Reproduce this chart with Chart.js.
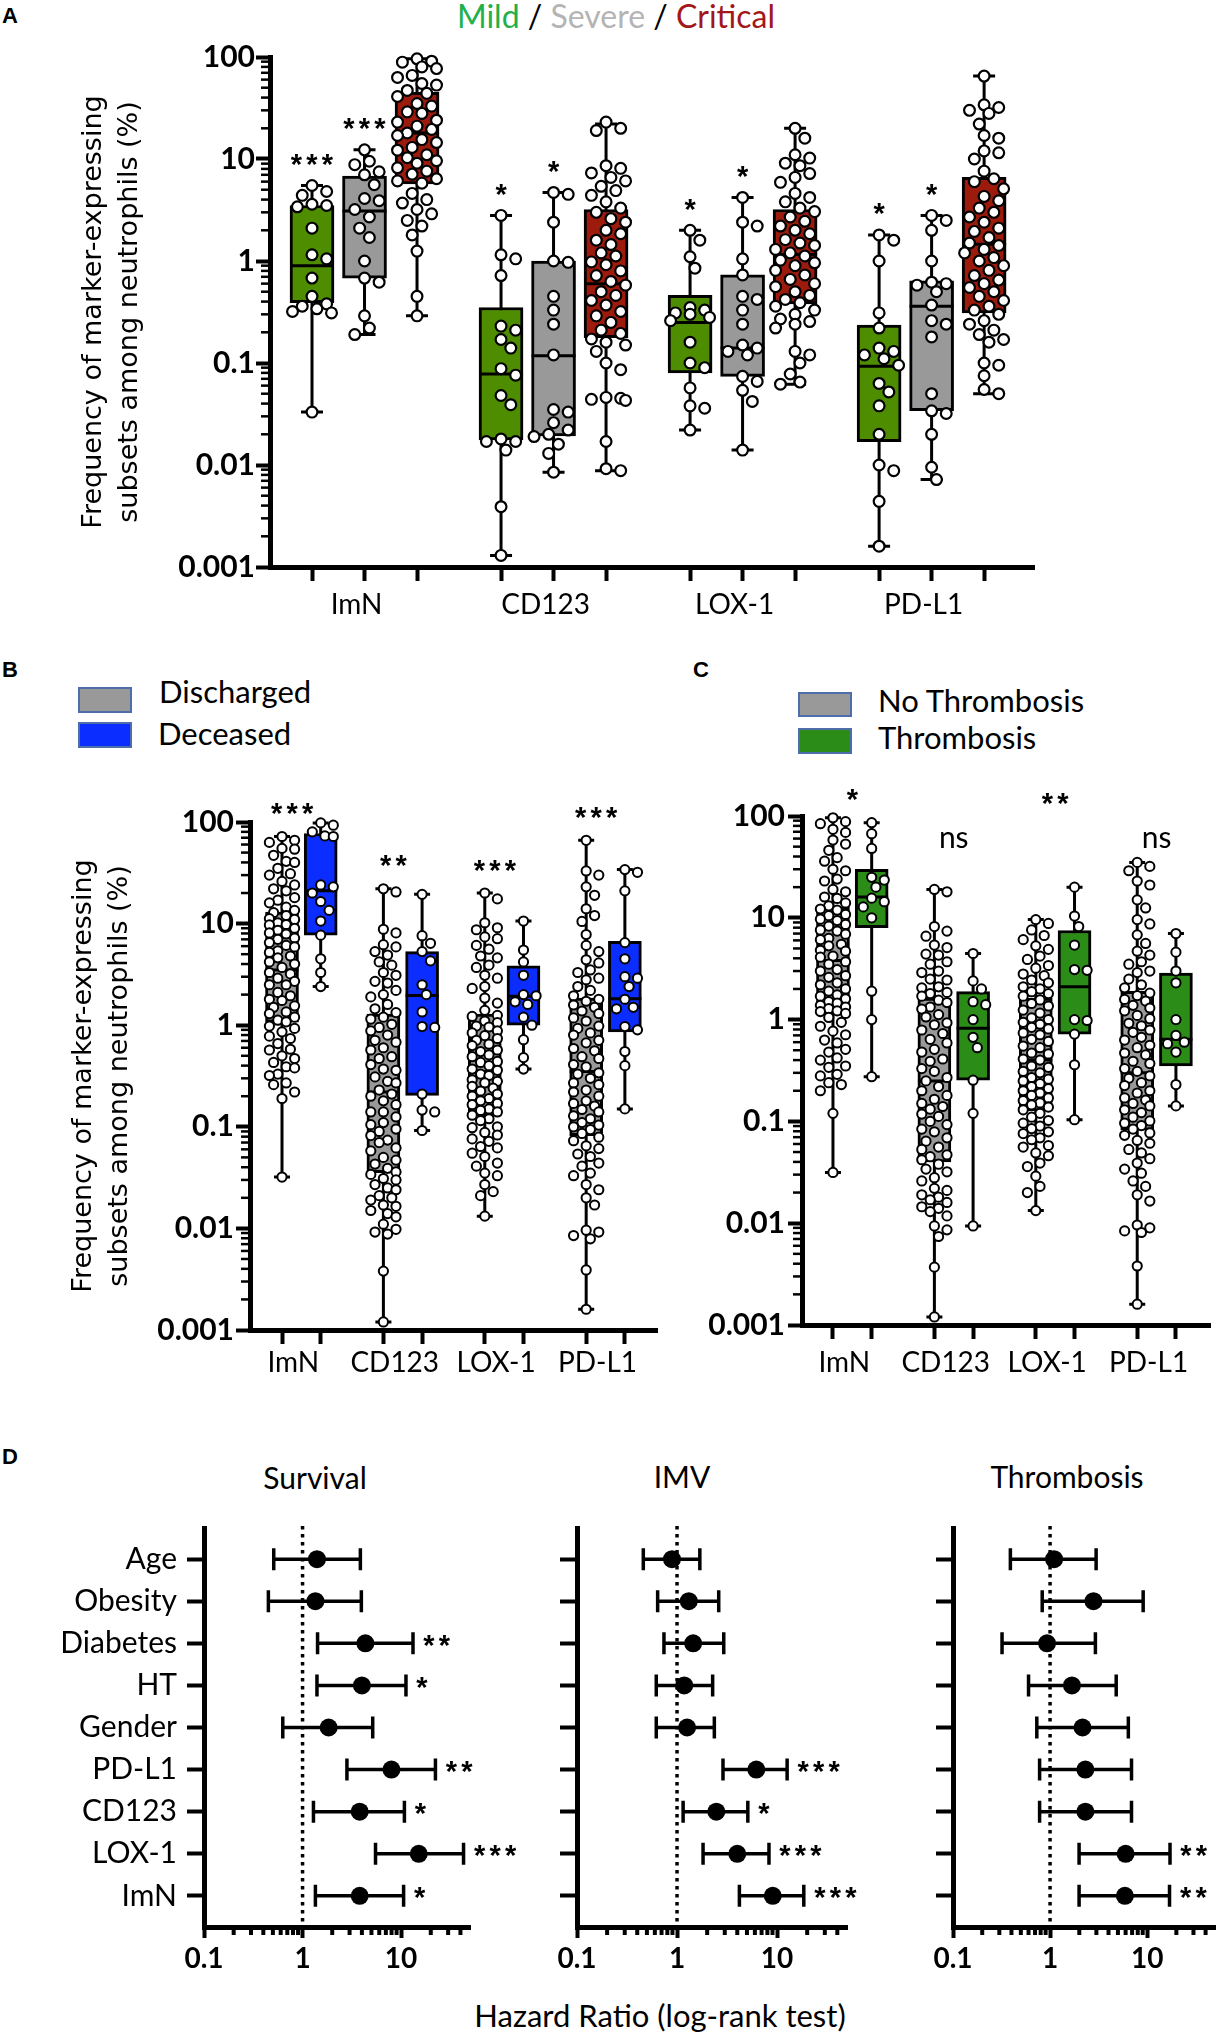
<!DOCTYPE html>
<html>
<head>
<meta charset="utf-8">
<script src="https://cdn.jsdelivr.net/npm/chart.js@4.4.1/dist/chart.umd.min.js"></script>
<style>
  body { margin: 0; background: #fff; width: 1224px; height: 2032px; position: relative; overflow: hidden; font-family: Lato, "Liberation Sans", sans-serif; color: #000; }
  canvas { position: absolute; }
  .t { position: absolute; white-space: nowrap; }
  .lg { position: absolute; box-sizing: border-box; border: 2px solid #4d6dab; width: 54px; }
</style>
</head>
<body>
<div class="t" style="left:2px;top:3px;font:bold 22px/26px 'Liberation Sans',sans-serif">A</div>
<div class="t" style="left:616px;top:-3px;transform:translateX(-50%);font-size:32px;line-height:38px"><span style="color:#21b04b">Mild</span> / <span style="color:#b4b4b4">Severe</span> / <span style="color:#a3161a">Critical</span></div>

<div class="t" style="left:2px;top:657px;font:bold 22px/26px 'Liberation Sans',sans-serif">B</div>
<div class="lg" style="left:78px;top:687px;height:26px;background:#999"></div>
<div class="lg" style="left:78px;top:722px;height:26px;background:#0b2dff"></div>
<div class="t" style="left:159px;top:673px;font-size:31px;line-height:37px">Discharged</div>
<div class="t" style="left:158px;top:715px;font-size:31px;line-height:37px">Deceased</div>

<div class="t" style="left:693px;top:657px;font:bold 22px/26px 'Liberation Sans',sans-serif">C</div>
<div class="lg" style="left:798px;top:692px;height:25px;background:#999"></div>
<div class="lg" style="left:798px;top:728px;height:26px;background:#2b8c17"></div>
<div class="t" style="left:878px;top:682px;font-size:31px;line-height:37px">No Thrombosis</div>
<div class="t" style="left:878px;top:719px;font-size:31px;line-height:37px">Thrombosis</div>

<div class="t" style="left:2px;top:1444px;font:bold 22px/26px 'Liberation Sans',sans-serif">D</div>
<div class="t" style="left:315px;top:1459px;transform:translateX(-50%);font-size:30px;line-height:36px">Survival</div>
<div class="t" style="left:682px;top:1458px;transform:translateX(-50%);font-size:30px;line-height:36px">IMV</div>
<div class="t" style="left:1067px;top:1458px;transform:translateX(-50%);font-size:30px;line-height:36px">Thrombosis</div>
<div class="t" style="left:660px;top:1997px;transform:translateX(-50%);font-size:31px;line-height:37px">Hazard Ratio (log-rank test)</div>

<canvas id="chartA"></canvas>
<canvas id="chartB"></canvas>
<canvas id="chartC"></canvas>
<canvas id="chartSurv"></canvas>
<canvas id="chartImv"></canvas>
<canvas id="chartThr"></canvas>

<script>
// ---- data ----
const markers = ['ImN', 'CD123', 'LOX-1', 'PD-L1'];
const decadeTicks = [0.001, 0.01, 0.1, 1, 10, 100];

// panel A, one inner list per marker; box stats are [min, q1, median, q3, max]
const mildVals = [
  [5.5, 4.8, 4.4, 3.6, 3.5, 3.4, 2.1, 1.15, 1.05, 0.68, 0.45, 0.38, 0.36, 0.34, 0.32, 0.31, 0.033],
  [2.8, 1.15, 1.05, 0.72, 0.23, 0.21, 0.17, 0.14, 0.088, 0.076, 0.048, 0.039, 0.018, 0.017, 0.017, 0.014, 0.0039, 0.0013],
  [2.0, 1.6, 1.1, 0.85, 0.35, 0.33, 0.31, 0.3, 0.28, 0.26, 0.16, 0.1, 0.09, 0.057, 0.038, 0.036, 0.022],
  [1.8, 1.6, 1.0, 0.31, 0.22, 0.14, 0.13, 0.12, 0.11, 0.095, 0.063, 0.052, 0.038, 0.02, 0.01, 0.0088, 0.0044, 0.0016]
];
const mildBox = [[0.033, 0.39, 0.9, 3.5, 5.5], [0.0013, 0.0176, 0.078, 0.35, 2.8], [0.022, 0.08, 0.25, 0.46, 2.0], [0.0016, 0.0169, 0.093, 0.235, 1.8]];
const severeVals = [
  [12.3, 9.5, 8.8, 7.5, 7.0, 5.6, 4.1, 3.9, 3.2, 2.7, 2.1, 1.7, 1.0, 0.68, 0.62, 0.29, 0.22, 0.19],
  [4.7, 4.5, 2.4, 1.0, 0.97, 0.45, 0.33, 0.24, 0.12, 0.035, 0.033, 0.026, 0.022, 0.02, 0.019, 0.016, 0.013, 0.0085],
  [4.2, 2.4, 2.2, 1.05, 0.73, 0.45, 0.42, 0.33, 0.24, 0.15, 0.14, 0.13, 0.12, 0.074, 0.066, 0.054, 0.042, 0.014],
  [2.8, 2.5, 2.0, 1.0, 0.62, 0.6, 0.58, 0.5, 0.37, 0.26, 0.24, 0.18, 0.05, 0.034, 0.032, 0.02, 0.0095, 0.0072]
];
const severeBox = [[0.19, 0.68, 3.1, 6.8, 12.3], [0.0085, 0.0193, 0.118, 1.0, 4.7], [0.014, 0.074, 0.14, 0.73, 4.2], [0.0072, 0.034, 0.36, 0.64, 2.8]];
const criticalVals = [
  [96, 91, 89, 80, 77, 66, 63, 55, 53, 47, 44, 41, 35, 33, 29, 28, 24, 23, 21, 19.5, 18, 17, 15.5, 14.5, 13, 12.2, 11, 10.3, 9.6, 9.1, 8.2, 7.6, 7.1, 6.4, 6.1, 5.8, 4.6, 4.0, 3.7, 3.2, 2.9, 2.5, 2.2, 1.8, 1.25, 0.45, 0.29],
  [23, 20, 19, 8.6, 8.1, 7.3, 6.6, 6.1, 5.4, 4.9, 4.4, 3.8, 3.3, 3.0, 2.6, 2.4, 2.0, 1.85, 1.6, 1.45, 1.2, 1.12, 0.98, 0.92, 0.8, 0.72, 0.63, 0.58, 0.5, 0.46, 0.41, 0.37, 0.32, 0.29, 0.25, 0.21, 0.195, 0.172, 0.16, 0.15, 0.13, 0.1, 0.086, 0.046, 0.045, 0.044, 0.043, 0.017, 0.0092, 0.0088],
  [20, 16, 11, 10.2, 9.1, 8.6, 7.2, 6.6, 5.9, 4.6, 4.2, 3.8, 3.3, 3.05, 2.7, 2.45, 2.2, 2.0, 1.85, 1.62, 1.5, 1.42, 1.3, 1.2, 1.12, 1.02, 0.96, 0.9, 0.81, 0.73, 0.66, 0.6, 0.56, 0.5, 0.46, 0.42, 0.39, 0.36, 0.33, 0.3, 0.27, 0.255, 0.24, 0.22, 0.13, 0.12, 0.1, 0.078, 0.065, 0.062],
  [65, 34, 32, 30, 28, 22, 17, 16, 12, 11.5, 10, 7.6, 6.4, 6.0, 5.1, 4.3, 3.9, 3.3, 3.0, 2.7, 2.4, 2.1, 1.95, 1.7, 1.5, 1.42, 1.3, 1.2, 1.08, 1.0, 0.9, 0.81, 0.72, 0.65, 0.6, 0.55, 0.5, 0.45, 0.41, 0.36, 0.33, 0.3, 0.26, 0.24, 0.21, 0.19, 0.17, 0.16, 0.1, 0.095, 0.075, 0.055, 0.05]
];
const criticalBox = [[0.29, 5.7, 18, 45, 96], [0.0088, 0.177, 0.6, 3.2, 22], [0.062, 0.38, 1.16, 3.2, 20], [0.05, 0.31, 1.46, 6.6, 65]];
const mildSig = ['***', '*', '*', '*'];
const severeSig = ['***', '*', '*', '*'];

// panel B
const dischVals = [
  [72, 66, 63, 55, 54, 47, 41, 40, 35, 31, 30, 26, 24, 22, 21, 18, 17, 16, 14.5, 13.5, 12.8, 12, 11.2, 11, 10.2, 9.8, 9.7, 9, 8.6, 8.1, 7.9, 7.2, 7, 6.5, 6.1, 5.9, 5.4, 5.2, 4.8, 4.6, 4.2, 4.0, 3.7, 3.3, 3.2, 2.9, 2.7, 2.5, 2.5, 2.1, 1.95, 1.8, 1.75, 1.55, 1.5, 1.35, 1.3, 1.2, 1.12, 1.08, 0.98, 0.93, 0.86, 0.78, 0.74, 0.66, 0.58, 0.57, 0.5, 0.47, 0.43, 0.39, 0.38, 0.33, 0.32, 0.27, 0.26, 0.22, 0.19, 0.032],
  [22, 20.5, 8.8, 8.1, 6.2, 5.9, 5.3, 4.9, 4.2, 3.9, 3.3, 3.1, 2.7, 2.6, 2.2, 2.0, 1.9, 1.6, 1.45, 1.33, 1.2, 1.15, 1.02, 0.95, 0.88, 0.8, 0.71, 0.68, 0.6, 0.57, 0.49, 0.47, 0.41, 0.37, 0.36, 0.31, 0.28, 0.27, 0.23, 0.21, 0.2, 0.18, 0.165, 0.14, 0.14, 0.125, 0.11, 0.105, 0.095, 0.09, 0.082, 0.074, 0.07, 0.062, 0.058, 0.05, 0.047, 0.043, 0.039, 0.036, 0.034, 0.031, 0.03, 0.027, 0.025, 0.024, 0.021, 0.02, 0.019, 0.017, 0.0165, 0.015, 0.014, 0.013, 0.011, 0.0098, 0.0092, 0.0088, 0.0038, 0.0012],
  [20, 17.5, 10.2, 9.1, 8.7, 7.4, 7.1, 6.1, 5.6, 4.8, 4.6, 3.9, 3.7, 3.1, 2.9, 2.4, 2.3, 1.85, 1.65, 1.4, 1.25, 1.22, 1.1, 1.06, 0.98, 0.96, 0.88, 0.84, 0.79, 0.74, 0.71, 0.65, 0.63, 0.57, 0.55, 0.51, 0.49, 0.44, 0.43, 0.4, 0.37, 0.36, 0.33, 0.32, 0.29, 0.28, 0.27, 0.25, 0.24, 0.225, 0.21, 0.2, 0.19, 0.18, 0.17, 0.165, 0.15, 0.145, 0.14, 0.13, 0.12, 0.115, 0.1, 0.098, 0.088, 0.083, 0.076, 0.072, 0.064, 0.062, 0.055, 0.051, 0.044, 0.041, 0.035, 0.033, 0.027, 0.023, 0.021, 0.0132],
  [66, 33, 30, 23, 19, 14, 12, 10.5, 7.8, 6.1, 5.3, 4.4, 4.1, 3.5, 3.3, 2.9, 2.8, 2.4, 2.2, 1.95, 1.8, 1.72, 1.58, 1.5, 1.38, 1.3, 1.18, 1.1, 0.98, 0.93, 0.84, 0.8, 0.71, 0.67, 0.59, 0.56, 0.49, 0.47, 0.41, 0.39, 0.34, 0.33, 0.3, 0.27, 0.26, 0.23, 0.22, 0.2, 0.18, 0.17, 0.16, 0.148, 0.14, 0.128, 0.12, 0.11, 0.104, 0.1, 0.094, 0.086, 0.079, 0.073, 0.065, 0.061, 0.054, 0.051, 0.044, 0.041, 0.035, 0.033, 0.027, 0.024, 0.02, 0.017, 0.0096, 0.0092, 0.0085, 0.0079, 0.0039, 0.0016]
];
const dischBox = [[0.032, 1.07, 3.5, 13, 72], [0.0012, 0.0354, 0.22, 1.29, 22], [0.0132, 0.128, 0.35, 1.29, 20], [0.0016, 0.082, 0.35, 1.85, 66]];
const deceasedVals = [
  [98, 93, 80, 73, 72, 24, 23, 20, 16.5, 13.5, 10.6, 7.7, 4.5, 3.3, 2.4],
  [19.4, 7.6, 6.4, 5.3, 4.3, 2.5, 2.0, 1.35, 0.97, 0.95, 0.21, 0.146, 0.14, 0.092],
  [10.6, 5.5, 4.2, 3.1, 2.0, 1.95, 1.7, 1.6, 1.2, 1.0, 0.72, 0.48, 0.37],
  [34, 32, 21, 6.5, 4.5, 3.0, 2.9, 2.4, 1.8, 1.5, 1.45, 0.97, 0.9, 0.55, 0.4, 0.15]
];
const deceasedBox = [[2.4, 7.7, 21, 77, 98], [0.092, 0.204, 1.96, 5.3, 19.4], [0.37, 1.0, 1.93, 3.85, 10.6], [0.15, 0.86, 1.82, 6.7, 34]];
const outcomeSig = ['***', '**', '***', '***'];

// panel C
const noThrVals = [
  [96, 88, 84, 74, 69, 58, 53, 46, 39, 36, 30, 29, 24, 23, 19, 18, 16, 15.5, 14, 13.1, 12.2, 11.9, 10.8, 10.5, 9.7, 9.4, 8.6, 8.3, 7.6, 7.4, 6.9, 6.3, 6.1, 5.5, 5.3, 4.8, 4.7, 4.2, 4.1, 3.7, 3.5, 3.1, 3.0, 2.7, 2.6, 2.3, 2.2, 2.0, 1.9, 1.75, 1.7, 1.6, 1.5, 1.45, 1.38, 1.33, 1.28, 1.22, 1.2, 1.15, 1.05, 0.94, 0.86, 0.77, 0.71, 0.63, 0.59, 0.51, 0.48, 0.42, 0.4, 0.35, 0.34, 0.29, 0.28, 0.24, 0.23, 0.2, 0.12, 0.0315],
  [19, 18, 8.2, 7.4, 6.6, 5.4, 5.1, 4.4, 4.3, 3.7, 3.5, 3.0, 2.9, 2.5, 2.45, 2.1, 2.05, 1.85, 1.8, 1.7, 1.55, 1.47, 1.33, 1.27, 1.12, 1.06, 0.93, 0.89, 0.79, 0.73, 0.64, 0.59, 0.51, 0.48, 0.41, 0.39, 0.33, 0.31, 0.27, 0.25, 0.22, 0.2, 0.18, 0.165, 0.15, 0.14, 0.132, 0.118, 0.112, 0.1, 0.093, 0.084, 0.079, 0.069, 0.064, 0.056, 0.053, 0.047, 0.045, 0.042, 0.038, 0.034, 0.032, 0.028, 0.026, 0.022, 0.021, 0.019, 0.018, 0.017, 0.016, 0.0145, 0.014, 0.013, 0.0118, 0.0094, 0.0086, 0.0074, 0.0037, 0.0012],
  [9.6, 8.8, 7.6, 6.7, 6.1, 5.3, 4.9, 4.2, 3.9, 3.4, 3.2, 2.8, 2.7, 2.45, 2.3, 2.1, 2.0, 1.88, 1.8, 1.7, 1.56, 1.44, 1.36, 1.24, 1.16, 1.04, 1.0, 0.94, 0.9, 0.84, 0.81, 0.74, 0.71, 0.64, 0.61, 0.55, 0.53, 0.47, 0.46, 0.41, 0.4, 0.35, 0.34, 0.31, 0.3, 0.27, 0.26, 0.25, 0.235, 0.22, 0.21, 0.2, 0.19, 0.18, 0.17, 0.16, 0.152, 0.145, 0.138, 0.13, 0.12, 0.11, 0.102, 0.096, 0.09, 0.085, 0.079, 0.076, 0.069, 0.066, 0.058, 0.056, 0.049, 0.046, 0.039, 0.036, 0.029, 0.023, 0.02, 0.0133],
  [35, 32, 29, 23, 21, 15, 12.5, 9.6, 8.7, 6.8, 5.6, 4.7, 4.3, 3.7, 3.5, 3.0, 2.9, 2.5, 2.2, 2.05, 1.82, 1.72, 1.58, 1.52, 1.38, 1.3, 1.22, 1.1, 1.02, 0.92, 0.87, 0.79, 0.75, 0.67, 0.63, 0.56, 0.53, 0.47, 0.45, 0.39, 0.37, 0.33, 0.31, 0.28, 0.265, 0.24, 0.225, 0.2, 0.19, 0.17, 0.162, 0.15, 0.142, 0.13, 0.122, 0.11, 0.101, 0.096, 0.091, 0.084, 0.077, 0.073, 0.065, 0.061, 0.053, 0.049, 0.043, 0.039, 0.034, 0.031, 0.026, 0.023, 0.019, 0.0165, 0.0096, 0.009, 0.0084, 0.0081, 0.0038, 0.0016]
];
const noThrBox = [[0.0315, 1.13, 3.8, 12.7, 96], [0.0012, 0.04, 0.25, 1.63, 19], [0.0133, 0.127, 0.4, 1.63, 9.6], [0.0016, 0.082, 0.3, 1.9, 35]];
const thrVals = [
  [86, 67, 48, 25, 23.5, 20, 15.6, 14.4, 12.8, 10, 1.9, 1.0, 0.275],
  [4.46, 2.4, 2.0, 1.5, 1.4, 1.0, 0.67, 0.53, 0.254, 0.12, 0.0094],
  [20, 10.4, 8.2, 5.4, 3.1, 3.05, 1.0, 0.98, 0.72, 0.36, 0.104],
  [7.0, 4.6, 3.0, 2.3, 1.0, 0.7, 0.6, 0.58, 0.48, 0.23, 0.142]
];
const thrBox = [[0.275, 8.0, 16, 30, 86], [0.0094, 0.254, 0.82, 1.88, 4.46], [0.104, 0.72, 2.1, 7.5, 20], [0.142, 0.35, 0.64, 2.86, 7.0]];
const thrSig = ['*', 'ns', '**', 'ns'];

// panel D, hazard ratios with 95% CI
const hrFactors = ['Age', 'Obesity', 'Diabetes', 'HT', 'Gender', 'PD-L1', 'CD123', 'LOX-1', 'ImN'];
const hrTicks = [0.1, 1, 10];
const survHR = [1.4, 1.35, 4.34, 4.0, 1.84, 7.98, 3.8, 15.1, 3.8];
const survLo = [0.51, 0.45, 1.42, 1.4, 0.63, 2.82, 1.29, 5.5, 1.35];
const survHi = [3.86, 3.95, 13.2, 11.2, 5.15, 22.3, 10.8, 43, 10.6];
const survSig = ['', '', '**', '*', '', '**', '*', '***', '*'];
const imvHR = [0.89, 1.31, 1.45, 1.18, 1.26, 6.2, 2.47, 4.0, 9.05];
const imvLo = [0.46, 0.64, 0.74, 0.62, 0.62, 2.88, 1.15, 1.82, 4.2];
const imvHi = [1.69, 2.61, 2.93, 2.27, 2.36, 12.6, 5.1, 8.3, 18.5];
const imvSig = ['', '', '', '', '', '***', '*', '***', '***'];
const thrHR = [1.1, 2.8, 0.93, 1.68, 2.16, 2.31, 2.31, 6.0, 5.9];
const thrLo = [0.39, 0.83, 0.32, 0.6, 0.73, 0.78, 0.78, 1.99, 1.99];
const thrHi = [2.98, 9.1, 2.93, 4.8, 6.4, 6.9, 6.9, 17.2, 17];
const thrHrSig = ['', '', '', '', '', '', '', '**', '**'];

// ---- helpers ----
const TXT = 'Lato, "Liberation Sans", sans-serif';
const yTitle = ['Frequency of marker-expressing', 'subsets among neutrophils (%)'];

// simple beeswarm: offsets in px, points stay inside the box where possible
function swarm(vals, pxDec, r, half) {
  const idx = vals.map((v, i) => i).sort((a, b) => vals[b] - vals[a]);
  const step = r * 0.75, dMin = 2 * r * 0.95;
  const cands = [0];
  for (let k = 1; k * step <= half + 0.01; k++) cands.push(k * step, -k * step);
  const placed = [], offs = [];
  idx.forEach(i => {
    const y = -Math.log10(vals[i]) * pxDec;
    let best = 0, bestCost = Infinity;
    for (const c of cands) {
      let cost = 0;
      placed.forEach(q => { const d = Math.hypot(c - q.x, y - q.y); if (d < dMin) cost += dMin - d; });
      if (cost < bestCost - 1e-9) { bestCost = cost; best = c; }
      if (cost === 0) break;
    }
    offs[i] = best;
    placed.push({x: best, y: y});
  });
  return offs;
}

function drawSig(ctx, text, x, cy, align) {
  ctx.save();
  ctx.fillStyle = '#000';
  if (/^\*+$/.test(text)) {
    ctx.font = 'bold 29px "Liberation Sans", Arial, sans-serif';
    ctx.textAlign = 'center';
    ctx.textBaseline = 'alphabetic';
    const pitch = 15.5, n = text.length;
    const x0 = align === 'left' ? x + 6 : x - (n - 1) * pitch / 2;
    for (let i = 0; i < n; i++) ctx.fillText('*', x0 + i * pitch, cy + 16.5);
  } else {
    ctx.font = '30px ' + TXT;
    ctx.textAlign = align || 'center';
    ctx.textBaseline = 'middle';
    ctx.fillText(text, x, cy);
  }
  ctx.restore();
}

function placeCanvas(id, p) {
  const cv = document.getElementById(id);
  cv.width = p.w; cv.height = p.h;
  cv.style.left = p.left + 'px'; cv.style.top = p.top + 'px';
  cv.style.width = p.w + 'px'; cv.style.height = p.h + 'px';
  return cv;
}

function boxChart(p) {
  const cv = placeCanvas(p.id, p);
  const A = p.area;
  const pxUnit = (A.right - A.left) / (p.xMax - p.xMin);
  const pxDec = (A.bottom - A.top) / 5;
  const yW = A.left - p.left;
  const pad = {left: 0, top: A.top - p.top, right: p.left + p.w - A.right, bottom: p.top + p.h - A.bottom - p.xH};
  const boxes = [], colors = [], points = [], stats = [], ticks = [];
  markers.forEach((m, mi) => {
    p.series.forEach((s, si) => {
      const x = mi * p.pitch + si;
      const b = s.box[mi];
      boxes.push({x: x, y: [b[1], b[3]]});
      colors.push(s.color);
      stats.push({x: x, b: b});
      ticks.push({value: x, label: si === p.labelAt ? m : '', mark: true});
      const offs = swarm(s.vals[mi], pxDec, p.r + p.pbw / 2, p.boxW / 2 - p.r * 0.4);
      s.vals[mi].forEach((v, k) => points.push({x: x + offs[k] / pxUnit, y: v}));
    });
    if (!Number.isInteger(p.labelAt)) ticks.push({value: mi * p.pitch + p.labelAt, label: m, mark: false});
  });
  ticks.sort((a, b) => a.value - b.value);

  const parts = {
    id: 'boxParts',
    beforeDatasetsDraw(chart) {
      const {ctx} = chart, xs = chart.scales.x, ys = chart.scales.y;
      ctx.save();
      ctx.strokeStyle = '#000'; ctx.lineWidth = p.lw;
      stats.forEach(s => {
        const x = xs.getPixelForValue(s.x);
        const y0 = ys.getPixelForValue(s.b[0]), y1 = ys.getPixelForValue(s.b[4]);
        ctx.beginPath();
        ctx.moveTo(x, y0); ctx.lineTo(x, y1);
        ctx.moveTo(x - p.capW / 2, y0); ctx.lineTo(x + p.capW / 2, y0);
        ctx.moveTo(x - p.capW / 2, y1); ctx.lineTo(x + p.capW / 2, y1);
        ctx.stroke();
      });
      ctx.restore();
    },
    afterDatasetDraw(chart, args) {
      if (args.index !== 0) return;
      const {ctx} = chart, xs = chart.scales.x, ys = chart.scales.y;
      ctx.save();
      ctx.strokeStyle = '#000'; ctx.lineWidth = p.lw;
      stats.forEach(s => {
        const x = xs.getPixelForValue(s.x), y = ys.getPixelForValue(s.b[2]);
        ctx.beginPath(); ctx.moveTo(x - p.boxW / 2, y); ctx.lineTo(x + p.boxW / 2, y); ctx.stroke();
      });
      ctx.restore();
    },
    afterDraw(chart) {
      const {ctx, chartArea} = chart, xs = chart.scales.x, ys = chart.scales.y;
      ctx.save();
      ctx.strokeStyle = '#000'; ctx.lineWidth = 2.5;
      for (let e = -3; e < 2; e++) {
        for (let m = 2; m < 10; m++) {
          const y = ys.getPixelForValue(m * Math.pow(10, e));
          ctx.beginPath(); ctx.moveTo(chartArea.left - 9, y); ctx.lineTo(chartArea.left, y); ctx.stroke();
        }
      }
      ctx.restore();
      p.sig.forEach(a => drawSig(ctx, a.text, xs.getPixelForValue(a.xu), ys.getPixelForValue(a.yv) - a.dy, 'center'));
    }
  };

  return new Chart(cv, {
    type: 'scatter',
    data: {
      datasets: [
        {type: 'bar', data: boxes, backgroundColor: colors, borderColor: '#000', borderWidth: p.lw, borderSkipped: false, barThickness: p.boxW, grouped: false, order: 2},
        {type: 'scatter', data: points, pointRadius: p.r, pointBackgroundColor: '#fff', pointBorderColor: '#000', pointBorderWidth: p.pbw, clip: false, order: 1}
      ]
    },
    options: {
      responsive: false, animation: false, events: [],
      layout: {padding: pad},
      plugins: {legend: {display: false}, tooltip: {enabled: false}},
      scales: {
        x: {
          type: 'linear', min: p.xMin, max: p.xMax, offset: false,
          afterBuildTicks: s => { s.ticks = ticks.map(t => ({value: t.value})); },
          afterFit: s => { s.height = p.xH; },
          ticks: {callback: (v, i) => ticks[i].label, autoSkip: false, maxRotation: 0, minRotation: 0, color: '#000', font: {family: TXT, size: 28}, padding: p.xPad, labelOffset: -8},
          grid: {drawOnChartArea: false, offset: false, tickLength: 14, tickWidth: 4, tickColor: c => (ticks[c.index] && ticks[c.index].mark) ? '#000' : 'rgba(0,0,0,0)'},
          border: {display: true, color: '#000', width: 5}
        },
        y: {
          type: 'logarithmic', min: 0.001, max: 100,
          afterBuildTicks: s => { s.ticks = decadeTicks.map(v => ({value: v, major: true})); },
          afterFit: s => { s.width = yW; },
          ticks: {callback: v => String(v), autoSkip: false, color: '#000', font: {family: TXT, size: 30, weight: 'bold'}, padding: p.yPad},
          grid: {drawOnChartArea: false, tickLength: 14, tickWidth: 4, tickColor: '#000'},
          border: {display: true, color: '#000', width: 5},
          title: p.title ? {display: true, text: yTitle, color: '#000', font: {family: '"DejaVu Sans", sans-serif', size: 27, lineHeight: 1.333}, padding: {top: p.titlePad, bottom: 0}} : {display: false}
        }
      }
    },
    plugins: [parts]
  });
}

function forestChart(p) {
  const cv = placeCanvas(p.id, p);
  const A = p.area;
  const yW = A.left - p.left;
  const pad = {left: 0, top: A.top - p.top, right: p.left + p.w - A.right, bottom: p.top + p.h - A.bottom - 50};
  const minors = [0.2, 0.3, 0.4, 0.5, 0.6, 0.7, 0.8, 0.9, 2, 3, 4, 5, 6, 7, 8, 9, 20, 30, 40];
  const parts = {
    id: 'forestParts',
    beforeDatasetsDraw(chart) {
      const {ctx, chartArea} = chart, xs = chart.scales.x, ys = chart.scales.y;
      ctx.save();
      ctx.strokeStyle = '#000';
      const x1 = xs.getPixelForValue(1);
      ctx.lineWidth = 3.5; ctx.setLineDash([3.5, 4.5]);
      ctx.beginPath(); ctx.moveTo(x1, chartArea.top - 2); ctx.lineTo(x1, chartArea.bottom); ctx.stroke();
      ctx.setLineDash([]);
      p.hr.forEach((v, i) => {
        const y = ys.getPixelForValue(i);
        const a = xs.getPixelForValue(p.lo[i]), b = xs.getPixelForValue(p.hi[i]);
        ctx.beginPath();
        ctx.moveTo(a, y); ctx.lineTo(b, y);
        ctx.moveTo(a, y - 11); ctx.lineTo(a, y + 11);
        ctx.moveTo(b, y - 11); ctx.lineTo(b, y + 11);
        ctx.stroke();
      });
      ctx.restore();
    },
    afterDraw(chart) {
      const {ctx, chartArea} = chart, xs = chart.scales.x, ys = chart.scales.y;
      ctx.save();
      ctx.strokeStyle = '#000'; ctx.lineWidth = 4;
      minors.forEach(v => {
        const x = xs.getPixelForValue(v);
        ctx.beginPath(); ctx.moveTo(x, chartArea.bottom); ctx.lineTo(x, chartArea.bottom + 8); ctx.stroke();
      });
      ctx.restore();
      p.sig.forEach((s, i) => {
        if (s) drawSig(ctx, s, xs.getPixelForValue(p.hi[i]) + 10, ys.getPixelForValue(i) - 5, 'left');
      });
    }
  };
  return new Chart(cv, {
    type: 'scatter',
    data: {datasets: [{data: p.hr.map((v, i) => ({x: v, y: i})), pointRadius: 9, pointBackgroundColor: '#000', pointBorderColor: '#000', pointBorderWidth: 0, clip: false}]},
    options: {
      responsive: false, animation: false, events: [],
      layout: {padding: pad},
      plugins: {legend: {display: false}, tooltip: {enabled: false}},
      scales: {
        x: {
          type: 'logarithmic', min: 0.1, max: 50,
          afterBuildTicks: s => { s.ticks = hrTicks.map(v => ({value: v, major: true})); },
          afterFit: s => { s.height = 50; },
          ticks: {callback: v => String(v), autoSkip: false, maxRotation: 0, color: '#000', font: {family: TXT, size: 28, weight: 'bold'}, padding: 4},
          grid: {drawOnChartArea: false, tickLength: 11, tickWidth: 4, tickColor: '#000'},
          border: {display: true, color: '#000', width: 5}
        },
        y: {
          type: 'linear', reverse: true, min: -0.74, max: 8.74,
          afterBuildTicks: s => { s.ticks = hrFactors.map((f, i) => ({value: i})); },
          afterFit: s => { s.width = yW; },
          ticks: {callback: (v, i) => p.labels ? hrFactors[i] : '', autoSkip: false, color: '#000', font: {family: TXT, size: 30}, padding: 10},
          grid: {drawOnChartArea: false, tickLength: 17, tickWidth: 4, tickColor: '#000'},
          border: {display: true, color: '#000', width: 5}
        }
      }
    },
    plugins: [parts]
  });
}

// ---- panel A ----
const sigA = [];
markers.forEach((m, mi) => {
  sigA.push({text: mildSig[mi], xu: mi * 3.6, yv: mildBox[mi][4], dy: 28});
  sigA.push({text: severeSig[mi], xu: mi * 3.6 + 1, yv: severeBox[mi][4], dy: 28});
});
boxChart({
  id: 'chartA', left: 0, top: 0, w: 1224, h: 640,
  area: {left: 270, right: 1034, top: 57, bottom: 567}, xH: 60, xPad: 7, yPad: 1,
  xMin: -0.8, xMax: 13.75, pitch: 3.6, labelAt: 1,
  boxW: 44, capW: 22, lw: 3, r: 5.4, pbw: 2.2,
  title: true, titlePad: 76,
  series: [
    {vals: mildVals, box: mildBox, color: '#4e8c00'},
    {vals: severeVals, box: severeBox, color: '#999999'},
    {vals: criticalVals, box: criticalBox, color: '#9c1b0d'}
  ],
  sig: sigA
});

// ---- panel B ----
boxChart({
  id: 'chartB', left: 0, top: 760, w: 690, h: 640,
  area: {left: 250, right: 657, top: 822, bottom: 1330}, xH: 50, xPad: 2, yPad: 2,
  xMin: -0.827, xMax: 9.69, pitch: 2.62, labelAt: 0.5,
  boxW: 33, capW: 16, lw: 3, r: 4.6, pbw: 2,
  title: true, titlePad: 66,
  series: [
    {vals: dischVals, box: dischBox, color: '#999999'},
    {vals: deceasedVals, box: deceasedBox, color: '#0b2dff'}
  ],
  sig: markers.map((m, mi) => ({text: outcomeSig[mi], xu: mi * 2.62 + 0.26, yv: dischBox[mi][4], dy: 30}))
});

// ---- panel C ----
const cSigY = [172, 60, 157, 60];
boxChart({
  id: 'chartC', left: 700, top: 760, w: 524, h: 640,
  area: {left: 802, right: 1210, top: 816, bottom: 1325}, xH: 50, xPad: 7, yPad: 3,
  xMin: -0.8, xMax: 9.74, pitch: 2.62, labelAt: 0.5,
  boxW: 33, capW: 16, lw: 3, r: 4.6, pbw: 2,
  title: false,
  series: [
    {vals: noThrVals, box: noThrBox, color: '#999999'},
    {vals: thrVals, box: thrBox, color: '#2b8c17'}
  ],
  sig: markers.map((m, mi) => ({text: thrSig[mi], xu: mi * 2.62 + 0.5, yv: cSigY[mi], dy: 0}))
});

// ---- panel D ----
forestChart({id: 'chartSurv', left: 0, top: 1500, w: 520, h: 490, area: {left: 204, right: 470, top: 1517, bottom: 1927},
  hr: survHR, lo: survLo, hi: survHi, sig: survSig, labels: true});
forestChart({id: 'chartImv', left: 520, top: 1500, w: 360, h: 490, area: {left: 577, right: 847, top: 1517, bottom: 1927},
  hr: imvHR, lo: imvLo, hi: imvHi, sig: imvSig, labels: false});
forestChart({id: 'chartThr', left: 880, top: 1500, w: 344, h: 490, area: {left: 953, right: 1222, top: 1517, bottom: 1927},
  hr: thrHR, lo: thrLo, hi: thrHi, sig: thrHrSig, labels: false});
</script>
</body>
</html>
